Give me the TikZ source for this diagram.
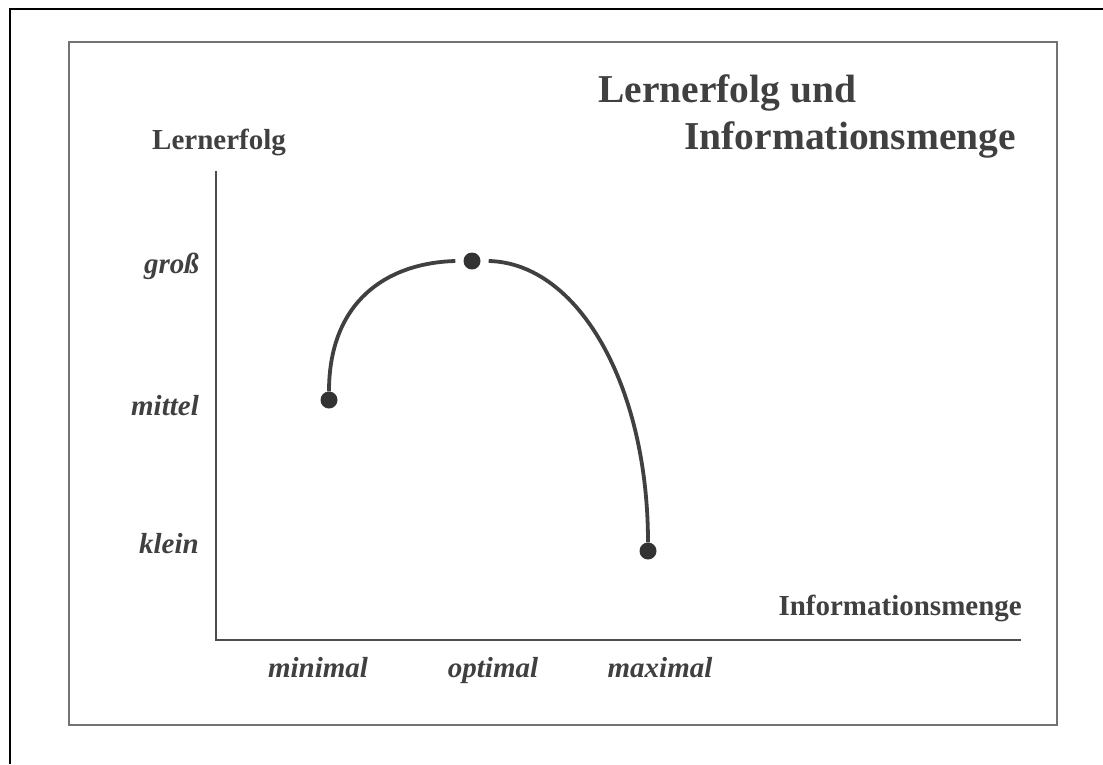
\documentclass[tikz,border=0pt]{standalone}
\usepackage{fontspec}
\setmainfont{Liberation Serif}
\begin{document}
\begin{tikzpicture}[x=1pt,y=-1pt,
  lbl/.style={font=\bfseries\fontsize{29}{32}\selectfont, text=black!75, inner sep=0pt},
  ttl/.style={font=\bfseries\fontsize{39.5}{42}\selectfont, text=black!75, inner sep=0pt},
  tick/.style={font=\bfseries\itshape\fontsize{29}{32}\selectfont, text=black!75, inner sep=0pt},
  dot/.style={circle, fill=black!80, minimum size=17pt, inner sep=0pt},
  curve/.style={draw=black!75, line width=3.8pt}]
\useasboundingbox (0,0) rectangle (1103,764);
% outer scan frame (left and top edges)
\draw[line width=2.6pt, black] (10,764) -- (10,9) -- (1103,9);
% inner box
\draw[line width=2pt, black!55] (69,42) rectangle (1057,725);
% axes
\coordinate (ytop) at (216,171);
\coordinate (orig) at (216,640);
\coordinate (xend) at (1021,640);
\draw[line width=2.2pt, black!70] (ytop) -- (orig) -- (xend);
% title
\node[ttl, anchor=west] (t1) at (598,93) {Lernerfolg und};
\node[ttl, anchor=east] (t2) at (1016,140) {Informationsmenge};
% axis labels
\node[lbl] (ylab) at (219,142) {Lernerfolg};
\node[lbl, anchor=east] (xlab) at (1022,608) {Informationsmenge};
% y ticks
\node[tick, anchor=east] (gross) at (199,266) {groß};
\node[tick, anchor=east] (mittel) at (199,406) {mittel};
\node[tick, anchor=east] (klein) at (199,544) {klein};
% x ticks
\node[tick, anchor=base] (minimal) at (318,677) {minimal};
\node[tick, anchor=base] (optimal) at (493,677) {optimal};
\node[tick, anchor=base] (maximal) at (660,677) {maximal};
% points
\node[dot] (pmin) at (329,400) {};
\node[dot] (popt) at (472,261) {};
\node[dot] (pmax) at (648,551) {};
% curves
\draw[curve] (pmin.north) .. controls (329,303) and (385,263) .. ([xshift=-8pt]popt.west);
\draw[curve] ([xshift=8pt]popt.east) .. controls (578,263) and (648,385) .. (pmax.north);
\end{tikzpicture}
\end{document}
